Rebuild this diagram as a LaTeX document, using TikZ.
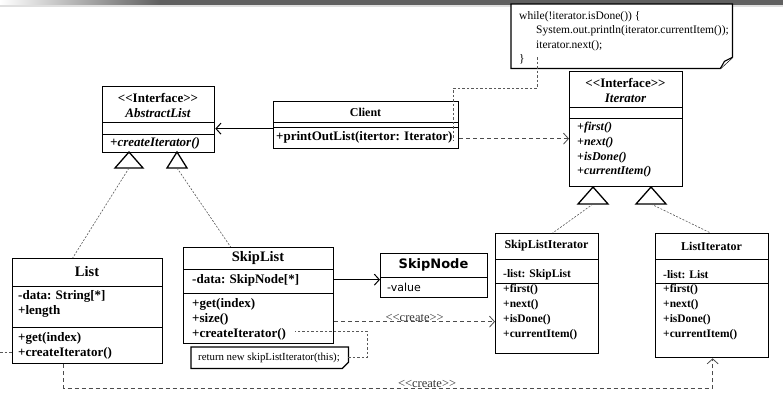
\documentclass[tikz,border=0pt]{standalone}
\usepackage{fontspec}
\setmainfont{Liberation Serif}
\newfontfamily\nodefont{DejaVu Sans}
\usetikzlibrary{arrows.meta}
\newcommand{\stereo}[1]{<\kern0pt<#1>\kern0pt>}
\tikzset{
    class-box/.style = {draw, line width=1.3pt, fill=white, rectangle, anchor=north west, inner sep=0pt},
    class-sep/.style = {line width=0.9pt},
    class-title/.style = {font=\fontsize{13}{14}\selectfont\bfseries, inner sep=0pt},
    class-member/.style = {font=\fontsize{13}{14.7}\selectfont\bfseries, align=left, anchor=north west, inner sep=0pt},
    small-member/.style = {font=\fontsize{11.5}{14.8}\selectfont\bfseries, align=left, anchor=north west, inner sep=0pt},
    note-line/.style = {draw, line width=1.3pt, fill=white},
    note-text/.style = {font=\fontsize{11.5}{14.5}\selectfont, align=left, anchor=north west, inner sep=0pt},
    gen-tri/.style = {draw, line width=1.3pt, fill=white, line join=miter},
    realize-line/.style = {draw=gray!70!black, line width=0.6pt, dash pattern=on 2pt off 1.5pt},
    note-link/.style = {draw=gray!70!black, line width=0.6pt, dash pattern=on 2.5pt off 2pt},
    create-line/.style = {draw=gray!60!black, line width=0.8pt, dash pattern=on 4pt off 3pt, -{Straight Barb[length=5pt,width=11pt]}},
    create-label/.style = {font=\fontsize{12.5}{13}\selectfont, text=gray!40!black, inner sep=0pt},
    assoc-line/.style = {line width=1pt, -{Straight Barb[length=5pt,width=11pt]}},
}

\begin{document}
\begin{tikzpicture}[x=1pt, y=-1pt]
\useasboundingbox (0,0) rectangle (783,400);
\fill[white] (0,0) rectangle (783,400);
% slide bar at the top
\shade[left color=white, right color=gray!75!black] (0,0) rectangle (160,5);
\fill[gray!75!black] (160,0) rectangle (783,5);
\fill[gray!25] (0,5) rectangle (783,7);

% interfaces
\node[class-box, minimum width=112pt, minimum height=66pt] (abstract-list) at (102,86) {};
\draw[class-sep] (102,122) -- (214,122) (102,134) -- (214,134);
\node[class-title] (abstract-list-stereo) at (158,98) {\stereo{Interface}};
\node[class-title, font=\fontsize{13}{14}\selectfont\bfseries\itshape] (abstract-list-title) at (158,113) {AbstractList};
\node[class-member, font=\fontsize{13}{14.7}\selectfont\bfseries\itshape] (abstract-list-ops) at (110,137) {+createIterator()};

\node[class-box, minimum width=113pt, minimum height=115pt] (iterator) at (569,71) {};
\draw[class-sep] (569,107) -- (682,107) (569,118) -- (682,118);
\node[class-title] (iterator-stereo) at (625.5,83) {\stereo{Interface}};
\node[class-title, font=\fontsize{13}{14}\selectfont\bfseries\itshape] (iterator-title) at (625.5,98) {Iterator};
\node[small-member, font=\fontsize{12}{14.7}\selectfont\bfseries\itshape] (iterator-ops) at (577,122) {+first()\\+next()\\+isDone()\\+currentItem()};

% client
\node[class-box, minimum width=185pt, minimum height=47pt] (client) at (273,101) {};
\draw[class-sep] (273,122) -- (458,122) (273,127) -- (458,127);
\node[class-title, font=\fontsize{12}{14}\selectfont\bfseries] (client-title) at (365.5,112) {Client};
\node[class-member] (client-ops) at (276,131) {+printOutList(itertor: Iterator)};

% note for the loop
\node[anchor=north west, minimum width=221pt, minimum height=64pt, inner sep=0pt] (loop-note) at (511,4) {};
\draw[note-line] (loop-note.north west) -- (loop-note.north east) -- ([yshift=11pt]loop-note.south east)
    -- ([xshift=-12pt]loop-note.south east) -- (loop-note.south west) -- cycle;
\draw[line width=1.1pt, fill=white] ([yshift=11pt]loop-note.south east) -- ([xshift=-8pt,yshift=7pt]loop-note.south east)
    -- ([xshift=-12pt]loop-note.south east);
\node[note-text] (loop-code) at (519,11) {while(!iterator.isDone()) \{\\
\hspace*{17pt}System.out.println(iterator.currentItem());\\
\hspace*{17pt}iterator.next();\\
\}};

% lists
\node[class-box, minimum width=150pt, minimum height=105pt] (list) at (12,258) {};
\draw[class-sep] (12,286) -- (162,286) (12,327) -- (162,327);
\node[class-title, font=\fontsize{14.5}{16}\selectfont\bfseries] (list-title) at (87,272) {List};
\node[class-member] (list-attrs) at (18,290.5) {-data: String[*]\\+length};
\node[class-member] (list-ops) at (18,332.5) {+get(index)\\+createIterator()};

\node[class-box, minimum width=150pt, minimum height=96pt] (skip-list) at (183,247) {};
\draw[class-sep] (183,269) -- (333,269) (183,293) -- (333,293);
\node[class-title, font=\fontsize{14.5}{16}\selectfont\bfseries] (skip-list-title) at (258,258) {SkipList};
\node[class-member] (skip-list-attrs) at (192,274.5) {-data: SkipNode[*]};
\node[class-member] (skip-list-ops) at (192,298.5) {+get(index)\\+size()\\+createIterator()};

% note for createIterator
\node[anchor=north west, minimum width=157pt, minimum height=21pt, inner sep=0pt] (skip-note) at (191,347) {};
\draw[note-line] (skip-note.north west) -- (skip-note.north east) -- ([yshift=6pt]skip-note.south east)
    -- ([xshift=-6pt]skip-note.south east) -- (skip-note.south west) -- cycle;
\node[font=\fontsize{10.8}{12}\selectfont, inner sep=0pt] (skip-note-text) at (269,357.5) {return new skipListIterator(this);};

\node[class-box, minimum width=107pt, minimum height=44pt] (skip-node) at (380,253) {};
\draw[class-sep] (380,277) -- (487,277);
\node[font=\nodefont\fontsize{13}{15}\selectfont\bfseries, inner sep=0pt] (skip-node-title) at (433.5,265) {SkipNode};
\node[font=\nodefont\fontsize{11}{13}\selectfont, anchor=west, inner sep=0pt] (skip-node-attrs) at (387,287) {-value};

% concrete iterators
\node[class-box, minimum width=103pt, minimum height=120pt] (skip-list-iterator) at (495,233) {};
\draw[class-sep] (495,259) -- (598,259) (495,283) -- (598,283);
\node[class-title, font=\fontsize{12}{14}\selectfont\bfseries] (skip-list-iterator-title) at (546.5,246) {SkipListIterator};
\node[small-member, anchor=west] (skip-list-iterator-attrs) at (503,275) {-list: SkipList};
\node[small-member] (skip-list-iterator-ops) at (503,284.5) {+first()\\+next()\\+isDone()\\+currentItem()};

\node[class-box, minimum width=113pt, minimum height=124pt] (list-iterator) at (655,233) {};
\draw[class-sep] (655,259) -- (768,259) (655,283) -- (768,283);
\node[class-title, font=\fontsize{12}{14}\selectfont\bfseries] (list-iterator-title) at (711.5,246) {ListIterator};
\node[small-member, anchor=west] (list-iterator-attrs) at (663,275) {-list: List};
\node[small-member] (list-iterator-ops) at (663,284.5) {+first()\\+next()\\+isDone()\\+currentItem()};

% realization triangles
\coordinate (list-gen) at (129,168);
\coordinate (skip-list-gen) at (177,168);
\coordinate (skip-iter-gen) at (593,204);
\coordinate (list-iter-gen) at (651,204);
\draw[gen-tri] (list-gen) -- ++(-14,0) -- ++(14,-16) -- ++(14,16) -- cycle;
\draw[gen-tri] (skip-list-gen) -- ++(-10,0) -- ++(10,-16) -- ++(10,16) -- cycle;
\draw[gen-tri] (skip-iter-gen) -- ++(-15,0) -- ++(15,-17) -- ++(15,17) -- cycle;
\draw[gen-tri] (list-iter-gen) -- ++(-15,0) -- ++(15,-17) -- ++(15,17) -- cycle;
\draw[realize-line] (list-gen) -- ([xshift=-15pt]list.north);
\draw[realize-line] (skip-list-gen) -- ([xshift=-28pt]skip-list.north);
\draw[realize-line] (skip-iter-gen) -- ([xshift=5.5pt]skip-list-iterator.north);
\draw[realize-line] (list-iter-gen) -- ([xshift=-1.5pt]list-iterator.north);

% associations
\coordinate (client-out) at ([yshift=-3.5pt]client.west);
\draw[assoc-line] (client-out) -- (client-out -| abstract-list.east);
\coordinate (client-use) at ([yshift=-13.5pt]client.east);
\draw[create-line] (client-use) -- (client-use -| iterator.west);
\coordinate (skip-list-data) at ([yshift=16pt]skip-list.east);
\draw[assoc-line] (skip-list-data) -- (skip-list-data -| skip-node.west);

% create dependencies
\coordinate (skip-list-create) at ([yshift=-26pt]skip-list.east);
\draw[create-line] (skip-list-create) -- node[pos=0.5, above, create-label] (skip-create-label) {\stereo{create}}
    (skip-list-create -| skip-list-iterator.west);
\coordinate (list-create) at ([xshift=-24pt]list.south);
\draw[create-line] (list-create) -- ++(0,24) -| node[pos=0.28, above, create-label] (list-create-label) {\stereo{create}}
    ([xshift=0.5pt]list-iterator.south);

% note links
\coordinate (loop-anchor) at (537,57);
\coordinate (client-hook) at ([xshift=-6pt,yshift=8pt]client.south east);
\draw[note-link] (loop-anchor) -- ++(0,31) -| (client-hook);
\coordinate (skip-hook) at ([xshift=-39pt,yshift=13pt]skip-list.south east);
\draw[note-link] (skip-note.east) -- ++(19,0) |- (skip-hook);
\coordinate (left-edge) at (0,352);
\draw[note-link] (left-edge) -- (left-edge -| list.west);
\end{tikzpicture}
\end{document}
